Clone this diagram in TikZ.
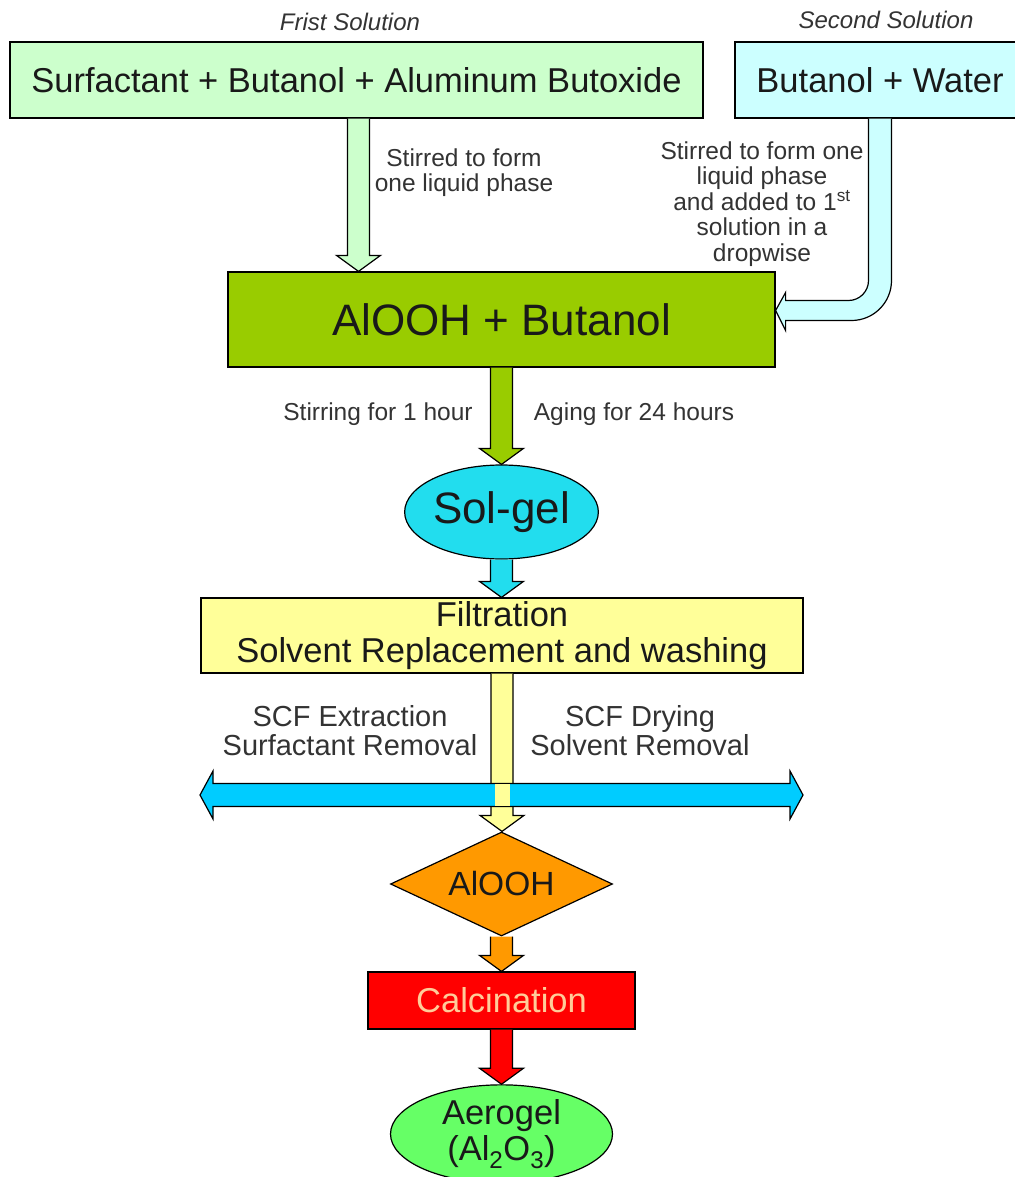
\documentclass[tikz,border=0pt]{standalone}
\usepackage{fontspec}
\setmainfont{Liberation Sans}
\usetikzlibrary{shapes.geometric,calc}

\definecolor{paleGreen}{HTML}{CCFFCC}
\definecolor{paleCyan}{HTML}{CCFFFF}
\definecolor{oliveGreen}{HTML}{99CC00}
\definecolor{skyCyan}{HTML}{00CCFF}
\definecolor{solCyan}{HTML}{22DDEE}
\definecolor{paleYellow}{HTML}{FFFF99}
\definecolor{orangeFill}{HTML}{FF9900}
\definecolor{brightGreen}{HTML}{66FF66}
\definecolor{calcText}{HTML}{FFCC99}

% block arrow pointing down: fill, from, to
\newcommand{\fatdown}[3]{%
  \draw[fill=#1] let \p1=(#2), \p2=(#3) in
    (\x1-11pt,\y1) -- (\x1-11pt,\y2+16pt) -- (\x1-22pt,\y2+16pt) -- (\x1,\y2)
    -- (\x1+22pt,\y2+16pt) -- (\x1+11pt,\y2+16pt) -- (\x1+11pt,\y1);}

\begin{document}
\begin{tikzpicture}[x=1pt,y=-1pt,line width=1.2pt,
    box/.style={draw,inner sep=0pt,align=center,text=black!90,font=\fontsize{34.5}{36}\selectfont},
    note/.style={align=center,text=black!80,font=\fontsize{24.5}{25.5}\selectfont},
    head/.style={text=black!80,font=\fontsize{24}{26}\selectfont\itshape}]
\useasboundingbox (0,0) rectangle (1014,1177);
\path
 (350,22)      node[head] (h1) {Frist Solution}
 (886,20)      node[head] (h2) {Second Solution}
 (356.5,80)    node[box,fill=paleGreen,minimum width=693pt,minimum height=76pt] (first) {Surfactant + Butanol + Aluminum Butoxide}
 (880,80)      node[box,fill=paleCyan,minimum width=290pt,minimum height=76pt] (second) {Butanol + Water}
 (501.5,319.5) node[box,fill=oliveGreen,minimum width=547pt,minimum height=95pt,font=\fontsize{44}{48}\selectfont] (alooh) {AlOOH + Butanol}
 (501.5,512)   node[box,ellipse,fill=solCyan,minimum width=180pt,minimum height=94pt,font=\fontsize{44}{48}\selectfont] (solgel) {Sol-gel}
 (502,635.5)   node[box,fill=paleYellow,minimum width=602pt,minimum height=75pt] (filt) {Filtration\\Solvent Replacement and washing}
 (501.5,884)   node[box,diamond,fill=orangeFill,minimum width=222pt,minimum height=104pt,aspect=2.1,font=\fontsize{33.5}{36}\selectfont] (dia) {AlOOH}
 (501.5,1000.5) node[box,fill=red,text=calcText,minimum width=267pt,minimum height=57pt] (calc) {Calcination}
 (501.5,1134)  node[box,ellipse,fill=brightGreen,minimum width=222pt,minimum height=92pt] (aero) {Aerogel\\(Al\textsubscript{2}O\textsubscript{3})};
\path
 (464,172.5) node[note] (n1) {Stirred to form\\one liquid phase}
 (762,204)   node[note] (n2) {Stirred to form one\\liquid phase\\and added to 1\textsuperscript{st}\\solution in a\\dropwise}
 (378,414)   node[note] (n3) {Stirring for 1 hour}
 (634,414)   node[note] (n4) {Aging for 24 hours}
 (350,730.5) node[note,font=\fontsize{29}{29}\selectfont] (n5) {SCF Extraction\\Surfactant Removal}
 (640,730.5) node[note,font=\fontsize{29}{29}\selectfont] (n6) {SCF Drying\\Solvent Removal};
\coordinate (scfL) at (200,795);
\coordinate (scfR) at (803,795);

\fatdown{paleGreen}{$(first.south)+(2,0)$}{alooh.north}
\fatdown{oliveGreen}{alooh.south}{solgel.north}
\fatdown{solCyan}{solgel.south}{filt.north}
\fatdown{paleYellow}{filt.south}{dia.north}
\fatdown{orangeFill}{dia.south}{calc.north}
\fatdown{red}{calc.south}{aero.north}

% bent arrow from the second solution
\draw[fill=paleCyan] let \p1=(second.south), \p2=($(alooh.east)+(0,-9)$) in
  (\x1-11.5pt,\y1) -- (\x1-11.5pt,\y2+30pt) arc[start angle=0,end angle=-90,radius=20pt]
  -- (\x2+10pt,\y2+10pt) -- (\x2+10pt,\y2+18pt) -- (\x2,\y2) -- (\x2+10pt,\y2-20pt)
  -- (\x2+10pt,\y2-10pt) -- (\x1-28.5pt,\y2-10pt) arc[start angle=-90,end angle=0,radius=40pt]
  -- (\x1+11.5pt,\y1);

% two way SCF arrow
\draw[fill=skyCyan] let \p1=(scfL), \p2=(scfR) in
  (\x1,\y1) -- (\x1+13pt,\y1+24pt) -- (\x1+13pt,\y1+11.5pt) -- (\x2-13pt,\y1+11.5pt)
  -- (\x2-13pt,\y1+24pt) -- (\x2,\y2) -- (\x2-13pt,\y2-24pt) -- (\x2-13pt,\y2-11.5pt)
  -- (\x1+13pt,\y2-11.5pt) -- (\x1+13pt,\y2-24pt) -- cycle;
\fill[paleYellow] (494.5,784) rectangle (509.5,806);
\end{tikzpicture}
\end{document}
